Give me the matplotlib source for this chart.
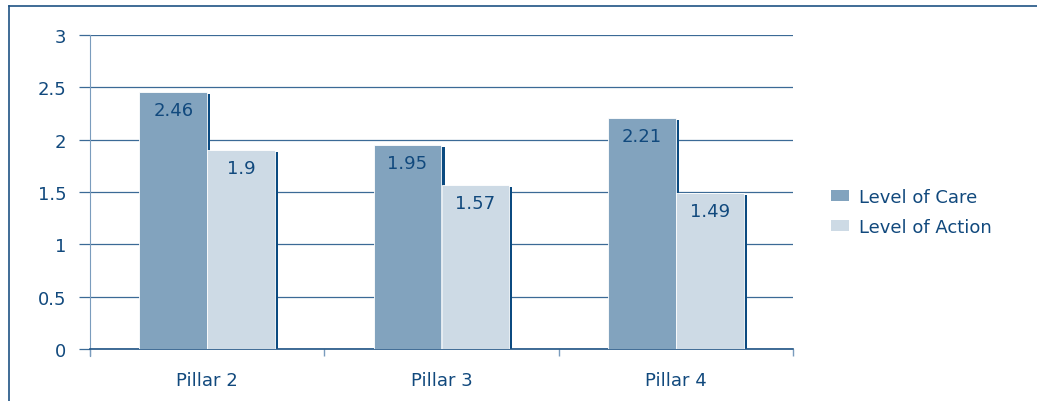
import matplotlib.pyplot as plt
import matplotlib.patches as mpatches
from matplotlib.lines import Line2D
import numpy as np

categories = ['Pillar 2', 'Pillar 3', 'Pillar 4']
care = [2.46, 1.95, 2.21]
action = [1.9, 1.57, 1.49]
yticks = [0, 0.5, 1, 1.5, 2, 2.5, 3]
ytick_labels = ['0', '0.5', '1', '1.5', '2', '2.5', '3']

CARE_CLR = '#82a3be'
ACTION_CLR = '#cddae5'
SHADOW = '#0b4a80'
TEXT = '#11497d'
GRID = '#3b6a96'
FS = 13

W, H = 1037, 402
fig = plt.figure(figsize=(W / 100, H / 100), dpi=100)
ax = fig.add_axes([90 / W, 1 - 350 / H, (793 - 90) / W, (350 - 36) / H])

x = np.arange(len(categories))
bw = 0.29
dx = 3 / 234.3   # shadow offset in data units
dy = 2 / 104.7

for xs, vals, clr in [(x - bw / 2, care, CARE_CLR), (x + bw / 2, action, ACTION_CLR)]:
    # dark edge on the right side of each bar
    ax.bar(xs + dx, np.array(vals) - dy, width=bw, color=SHADOW, zorder=2)
    ax.bar(xs, vals, width=bw, color=clr, edgecolor='white', linewidth=0.6, zorder=3)
    for xi, v in zip(xs, vals):
        ax.text(xi, v - 0.175, f'{v:g}', ha='center', va='center',
                fontsize=FS, color=TEXT, zorder=4)

ax.set_xlim(-0.5, 2.5)
ax.set_ylim(0, 3)
ax.set_yticks(yticks)
ax.set_yticklabels(ytick_labels)
ax.yaxis.grid(True, color=GRID, linewidth=0.9, zorder=0)
ax.set_axisbelow(True)

ax.set_xticks(x)
ax.set_xticklabels(categories)
ax.set_xticks([-0.5, 0.5, 1.5, 2.5], minor=True)
ax.tick_params(axis='x', which='major', length=0, pad=16, labelsize=FS, labelcolor=TEXT)
ax.tick_params(axis='x', which='minor', length=5, color='#7a9cbd', width=1)
ax.tick_params(axis='y', length=8, color=GRID, width=0.9, pad=9, labelsize=FS, labelcolor=TEXT)

for s in ['top', 'right']:
    ax.spines[s].set_visible(False)
ax.spines['left'].set_color('#7a9cbd')
ax.spines['left'].set_bounds(-0.07, 3)
ax.spines['bottom'].set_color('#1f5384')
ax.spines['bottom'].set_linewidth(1.2)

handles = [mpatches.Patch(facecolor=CARE_CLR, label='Level of Care'),
           mpatches.Patch(facecolor=ACTION_CLR, label='Level of Action')]
leg = fig.legend(handles=handles, loc='center left', bbox_to_anchor=(822 / W, 1 - 213 / H),
                 frameon=False, fontsize=FS, handlelength=1.0, handleheight=0.55,
                 handletextpad=0.55, labelspacing=0.65, borderpad=0)
for t in leg.get_texts():
    t.set_color(TEXT)

# outer frame (top and left edges)
fig.add_artist(Line2D([9 / W, 9 / W], [0, 1 - 7 / H], color='#1f5384', linewidth=1.2))
fig.add_artist(Line2D([9 / W, 1], [1 - 7 / H, 1 - 7 / H], color='#1f5384', linewidth=1.2))

fig.savefig('out.png', dpi=100)
